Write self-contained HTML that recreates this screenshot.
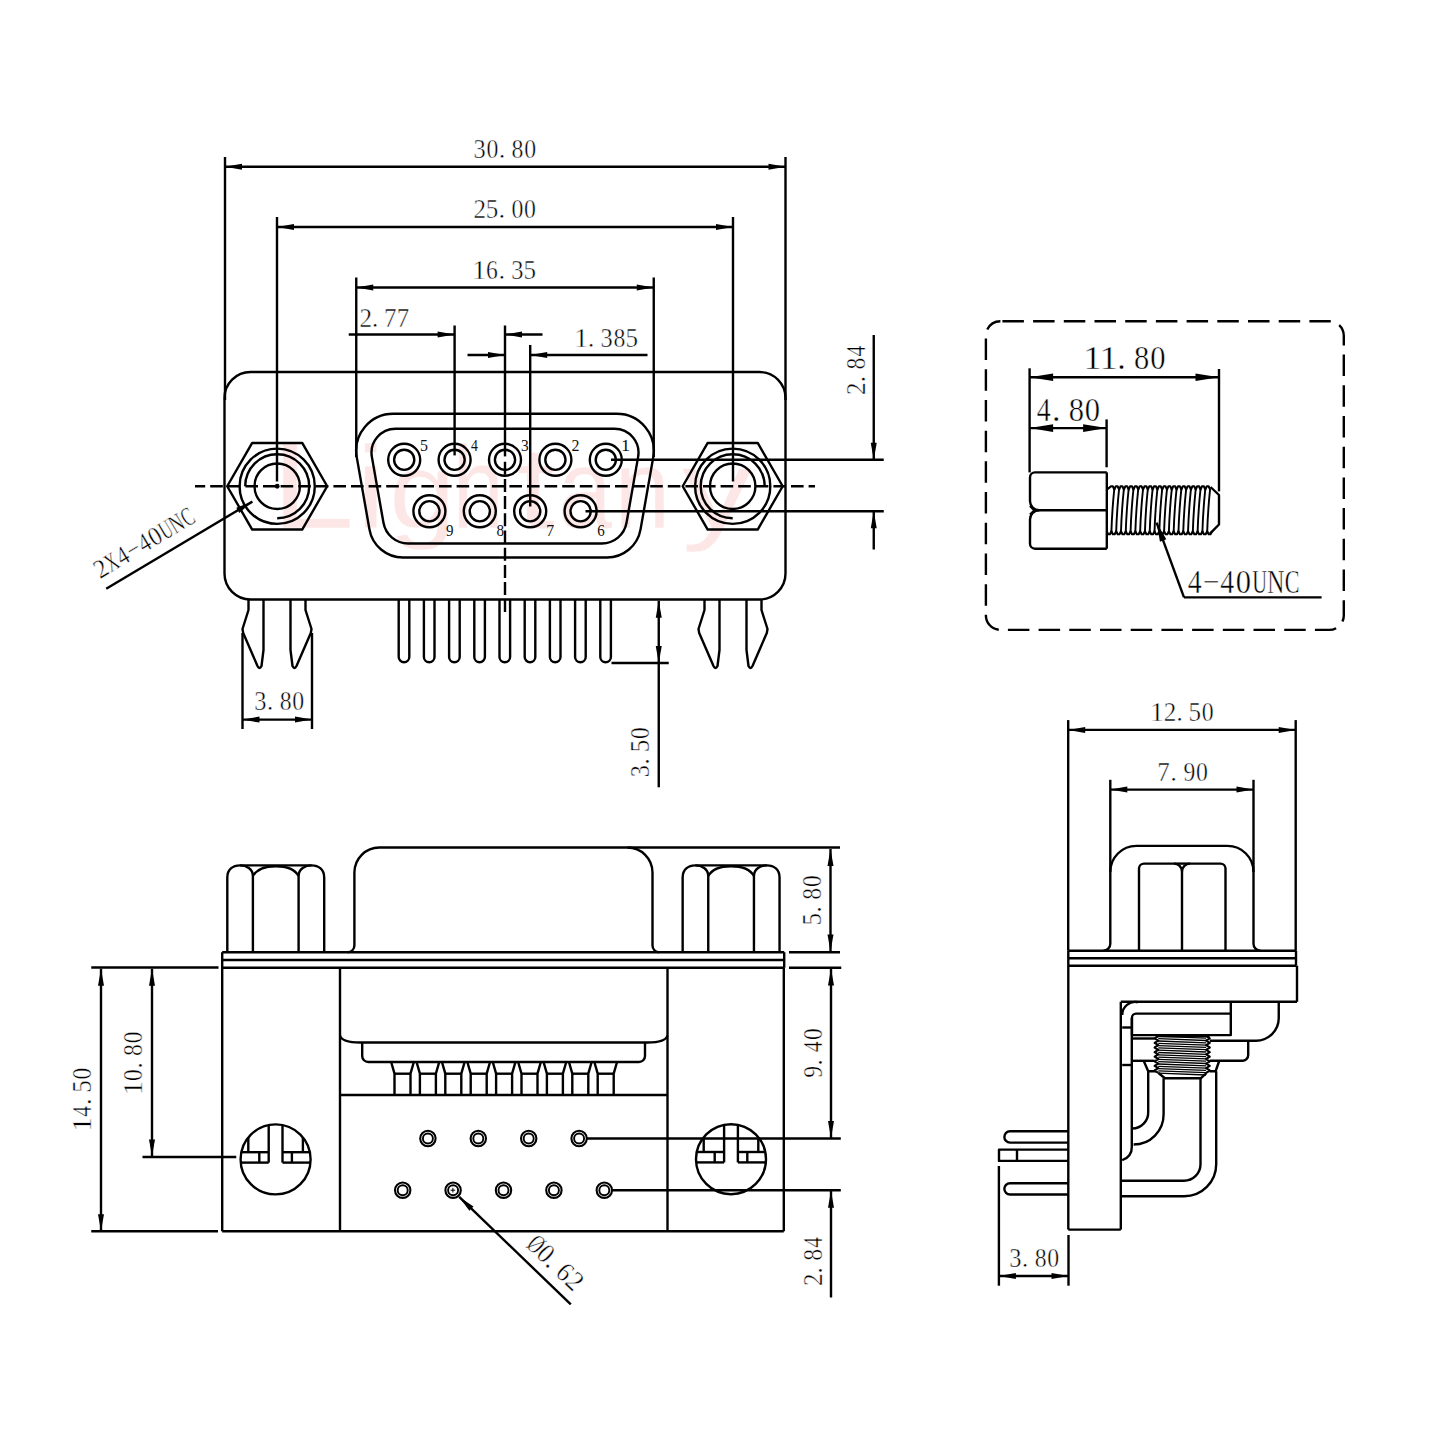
<!DOCTYPE html>
<html><head><meta charset="utf-8"><title>DB9 connector drawing</title><style>
*{margin:0;padding:0}
html,body{width:1440px;height:1440px;background:#fff;overflow:hidden}
svg{display:block}
.g line,.g path,.g circle{fill:none;stroke:#000;stroke-width:2.4;stroke-linecap:butt;stroke-linejoin:round}
.g .a{fill:#000;stroke:none}
.g .th{stroke-width:1.9}
.g .th2{stroke-width:2.1}
.g .hl{stroke-width:1.35}
text{font-family:"Liberation Serif",serif;fill:#000;stroke:#fff;stroke-width:0.45;paint-order:fill}
.s text{stroke:none;fill:#111}
.wm{font-family:"Liberation Sans",sans-serif;fill:#fce6e6}
</style></head>
<body><svg width="1440" height="1440" viewBox="0 0 1440 1440">
<text class="wm" transform="translate(270.54 528) scale(1.245 1.000)" font-size="122">L</text><text class="wm" transform="translate(355.86 528) scale(1.118 0.965)" font-size="122">i</text><text class="wm" transform="translate(388.96 528) scale(0.984 0.880)" font-size="122">g</text><text class="wm" transform="translate(452.62 528) scale(0.758 0.960)" font-size="122">h</text><text class="wm" transform="translate(515.89 528) scale(1.153 0.950)" font-size="122">t</text><text class="wm" transform="translate(557.91 528) scale(0.797 0.930)" font-size="122">a</text><text class="wm" transform="translate(614.32 528) scale(0.829 0.930)" font-size="122">n</text><text class="wm" transform="translate(681.72 528) scale(1.157 0.930)" font-size="122">y</text>
<g class="g">
<path d="M250.5 372 L759.5 372 A26 26 0 0 1 785.5 398 L785.5 573.5 A26 26 0 0 1 759.5 599.5 L250.5 599.5 A26 26 0 0 1 224.5 573.5 L224.5 398 A26 26 0 0 1 250.5 372 Z"/>
<line x1="225" y1="157" x2="225" y2="400"/>
<line x1="785.5" y1="157" x2="785.5" y2="400"/>
<line x1="225" y1="166.75" x2="785.5" y2="166.75"/>
<path class="a" d="M225 166.75 L242 163.75 L242 169.75 Z"/>
<path class="a" d="M785.5 166.75 L768.5 169.75 L768.5 163.75 Z"/>
<g class="t" transform="translate(0 0.5)"><text transform="translate(473.53 157.4) scale(0.920 1)" font-size="26.53">3</text><text transform="translate(486.4 157.4) scale(0.896 1)" font-size="26.53">0</text><text x="498.64" y="157.4" font-size="26.53">.</text><text transform="translate(511.6 157.4) scale(0.896 1)" font-size="26.53">8</text><text transform="translate(524.2 157.4) scale(0.896 1)" font-size="26.53">0</text></g>
<line x1="277" y1="217" x2="277" y2="481.5"/>
<line x1="733" y1="217" x2="733" y2="481.5"/>
<line x1="277" y1="227" x2="733" y2="227"/>
<path class="a" d="M277 227 L294 224 L294 230 Z"/>
<path class="a" d="M733 227 L716 230 L716 224 Z"/>
<g class="t" transform="translate(0 0.5)"><text transform="translate(473.39 217.6) scale(0.948 1)" font-size="26.53">2</text><text transform="translate(485.65 217.6) scale(0.943 1)" font-size="26.53">5</text><text x="498.44" y="217.6" font-size="26.53">.</text><text transform="translate(511.4 217.6) scale(0.896 1)" font-size="26.53">0</text><text transform="translate(524 217.6) scale(0.896 1)" font-size="26.53">0</text></g>
<line x1="356.25" y1="277.5" x2="356.25" y2="457"/>
<line x1="653.75" y1="277.5" x2="653.75" y2="457"/>
<line x1="356.25" y1="287.5" x2="653.75" y2="287.5"/>
<path class="a" d="M356.25 287.5 L373.25 284.5 L373.25 290.5 Z"/>
<path class="a" d="M653.75 287.5 L636.75 290.5 L636.75 284.5 Z"/>
<g class="t" transform="translate(0 0.5)"><text transform="translate(471.98 278.8) scale(1.080 1)" font-size="26.53">1</text><text transform="translate(486.08 278.8) scale(0.890 1)" font-size="26.53">6</text><text x="498.44" y="278.8" font-size="26.53">.</text><text transform="translate(511.13 278.8) scale(0.920 1)" font-size="26.53">3</text><text transform="translate(523.45 278.8) scale(0.943 1)" font-size="26.53">5</text></g>
<line x1="454.6" y1="325.5" x2="454.6" y2="455.4"/>
<line x1="505" y1="325.5" x2="505" y2="456.4"/>
<line x1="348.75" y1="334.5" x2="454.6" y2="334.5"/>
<path class="a" d="M454.6 334.5 L437.6 337.5 L437.6 331.5 Z"/>
<line x1="505" y1="334.5" x2="542.5" y2="334.5"/>
<path class="a" d="M505 334.5 L522 331.5 L522 337.5 Z"/>
<g class="t" transform="translate(0 0.5)"><text transform="translate(359.39 326.3) scale(0.948 1)" font-size="26.53">2</text><text x="371.84" y="326.3" font-size="26.53">.</text><text transform="translate(384.06 326.3) scale(0.938 1)" font-size="26.53">7</text><text transform="translate(396.66 326.3) scale(0.938 1)" font-size="26.53">7</text></g>
<line x1="530.2" y1="345" x2="530.2" y2="506.5"/>
<line x1="467.5" y1="355" x2="505" y2="355"/>
<path class="a" d="M505 355 L488 358 L488 352 Z"/>
<line x1="530.2" y1="355" x2="647.5" y2="355"/>
<path class="a" d="M530.2 355 L547.2 352 L547.2 358 Z"/>
<g class="t" transform="translate(0 0.5)"><text transform="translate(573.98 346.3) scale(1.080 1)" font-size="26.53">1</text><text x="587.84" y="346.3" font-size="26.53">.</text><text transform="translate(600.53 346.3) scale(0.920 1)" font-size="26.53">3</text><text transform="translate(613.4 346.3) scale(0.896 1)" font-size="26.53">8</text><text transform="translate(625.45 346.3) scale(0.943 1)" font-size="26.53">5</text></g>
<path d="M393.18 413.75 L616.82 413.75 A37 37 0 0 1 653.26 457.16 L640.55 529.39 A34 34 0 0 1 607.06 557.5 L402.94 557.5 A34 34 0 0 1 369.45 529.39 L356.74 457.16 A37 37 0 0 1 393.18 413.75 Z"/>
<path d="M395.52 428.75 L614.48 428.75 A24 24 0 0 1 638.12 456.91 L626.52 522.83 A25 25 0 0 1 601.9 543.5 L408.1 543.5 A25 25 0 0 1 383.48 522.83 L371.88 456.91 A24 24 0 0 1 395.52 428.75 Z"/>
<circle cx="404.2" cy="459.8" r="16"/>
<circle cx="404.2" cy="459.8" r="10.1"/>
<circle cx="454.6" cy="459.8" r="16"/>
<circle cx="454.6" cy="459.8" r="10.1"/>
<circle cx="505" cy="459.8" r="16"/>
<circle cx="505" cy="459.8" r="10.1"/>
<circle cx="555.4" cy="459.8" r="16"/>
<circle cx="555.4" cy="459.8" r="10.1"/>
<circle cx="605.8" cy="459.8" r="16"/>
<circle cx="605.8" cy="459.8" r="10.1"/>
<circle cx="429.4" cy="511.25" r="16"/>
<circle cx="429.4" cy="511.25" r="10.1"/>
<circle cx="479.8" cy="511.25" r="16"/>
<circle cx="479.8" cy="511.25" r="10.1"/>
<circle cx="530.2" cy="511.25" r="16"/>
<circle cx="530.2" cy="511.25" r="10.1"/>
<circle cx="580.6" cy="511.25" r="16"/>
<circle cx="580.6" cy="511.25" r="10.1"/>
<g class="s" transform="translate(0 0.5)"><text transform="translate(420.08 450.4) scale(0.943 1)" font-size="16.84">5</text></g>
<g class="s" transform="translate(0 0.5)"><text transform="translate(471.12 450.4) scale(0.819 1)" font-size="16.84">4</text></g>
<g class="s" transform="translate(0 0.5)"><text transform="translate(521.06 450.4) scale(0.920 1)" font-size="16.84">3</text></g>
<g class="s" transform="translate(0 0.5)"><text transform="translate(571.5 450.4) scale(0.948 1)" font-size="16.84">2</text></g>
<g class="s" transform="translate(0 0.5)"><text transform="translate(621 450.4) scale(1.080 1)" font-size="16.84">1</text></g>
<g class="s" transform="translate(0 0.5)"><text transform="translate(446.12 535) scale(0.890 1)" font-size="16.84">9</text></g>
<g class="s" transform="translate(0 0.5)"><text transform="translate(496.43 535) scale(0.896 1)" font-size="16.84">8</text></g>
<g class="s" transform="translate(0 0.5)"><text transform="translate(546.36 535) scale(0.938 1)" font-size="16.84">7</text></g>
<g class="s" transform="translate(0 0.5)"><text transform="translate(597.16 535) scale(0.890 1)" font-size="16.84">6</text></g>
<line x1="195" y1="486.25" x2="815" y2="486.25" stroke-dasharray="12.6 5" stroke-dashoffset="2.4"/>
<line x1="505" y1="461.7" x2="505" y2="612" stroke-dasharray="13 4.2" stroke-dashoffset="0"/>
<line x1="611" y1="459.8" x2="883.75" y2="459.8"/>
<line x1="585.5" y1="511.25" x2="883.75" y2="511.25"/>
<line x1="873.75" y1="335" x2="873.75" y2="459.8"/>
<path class="a" d="M873.75 459.8 L870.75 442.8 L876.75 442.8 Z"/>
<line x1="873.75" y1="511.25" x2="873.75" y2="549.5"/>
<path class="a" d="M873.75 511.25 L876.75 528.25 L870.75 528.25 Z"/>
<g class="t" transform="translate(865 393.8) rotate(-90)"><text transform="translate(-1.11 0) scale(0.948 1)" font-size="26.53">2</text><text x="11.34" y="0" font-size="26.53">.</text><text transform="translate(24.3 0) scale(0.896 1)" font-size="26.53">8</text><text transform="translate(37.37 0) scale(0.819 1)" font-size="26.53">4</text></g>
<path d="M227.2 486.25 L252.2 442.95 L302.2 442.95 L327.2 486.25 L302.2 529.55 L252.2 529.55 Z"/>
<circle cx="277.2" cy="486.25" r="37.6"/>
<circle cx="277.2" cy="486.25" r="22.7"/>
<path d="M245.2 486.25 A32 32 0 1 1 277.2 518.25"/>
<circle cx="277.2" cy="486.25" r="2.4" class="a"/>
<path d="M682.7 486.25 L707.7 442.95 L757.7 442.95 L782.7 486.25 L757.7 529.55 L707.7 529.55 Z"/>
<circle cx="732.7" cy="486.25" r="37.6"/>
<circle cx="732.7" cy="486.25" r="22.7"/>
<path d="M764.7 486.25 A32 32 0 1 0 732.7 518.25"/>
<path d="M248.5 599.5 L248.5 610 L242.5 629 L243.2 633 L257.5 666 Q259.5 670 261.5 666 L263.5 650 L263.5 599.5"/>
<path d="M305.5 599.5 L305.5 610 L311.5 629 L310.8 633 L296.5 666 Q294.5 670 292.5 666 L290.5 650 L290.5 599.5"/>
<path d="M704.5 599.5 L704.5 610 L698.5 629 L699.2 633 L713.5 666 Q715.5 670 717.5 666 L719.5 650 L719.5 599.5"/>
<path d="M761.5 599.5 L761.5 610 L767.5 629 L766.8 633 L752.5 666 Q750.5 670 748.5 666 L746.5 650 L746.5 599.5"/>
<line x1="242.5" y1="633" x2="242.5" y2="729"/>
<line x1="312" y1="633" x2="312" y2="729"/>
<line x1="242.5" y1="719.6" x2="312" y2="719.6"/>
<path class="a" d="M242.5 719.6 L259.5 716.6 L259.5 722.6 Z"/>
<path class="a" d="M312 719.6 L295 722.6 L295 716.6 Z"/>
<g class="t" transform="translate(0 0.5)"><text transform="translate(254.23 709) scale(0.920 1)" font-size="26.53">3</text><text x="266.74" y="709" font-size="26.53">.</text><text transform="translate(279.7 709) scale(0.896 1)" font-size="26.53">8</text><text transform="translate(292.3 709) scale(0.896 1)" font-size="26.53">0</text></g>
<path d="M398.7 599.5 L398.7 656.9 A5.3 5.3 0 0 0 409.3 656.9 L409.3 599.5"/>
<path d="M423.9 599.5 L423.9 656.9 A5.3 5.3 0 0 0 434.5 656.9 L434.5 599.5"/>
<path d="M449.1 599.5 L449.1 656.9 A5.3 5.3 0 0 0 459.7 656.9 L459.7 599.5"/>
<path d="M474.3 599.5 L474.3 656.9 A5.3 5.3 0 0 0 484.9 656.9 L484.9 599.5"/>
<path d="M499.5 599.5 L499.5 656.9 A5.3 5.3 0 0 0 510.1 656.9 L510.1 599.5"/>
<path d="M524.7 599.5 L524.7 656.9 A5.3 5.3 0 0 0 535.3 656.9 L535.3 599.5"/>
<path d="M549.9 599.5 L549.9 656.9 A5.3 5.3 0 0 0 560.5 656.9 L560.5 599.5"/>
<path d="M575.1 599.5 L575.1 656.9 A5.3 5.3 0 0 0 585.7 656.9 L585.7 599.5"/>
<path d="M600.3 599.5 L600.3 656.9 A5.3 5.3 0 0 0 610.9 656.9 L610.9 599.5"/>
<line x1="658.75" y1="600.8" x2="658.75" y2="787.3"/>
<path class="a" d="M658.75 600.8 L661.75 617.8 L655.75 617.8 Z"/>
<path class="a" d="M658.75 663 L655.75 646 L661.75 646 Z"/>
<line x1="611.5" y1="663" x2="668.75" y2="663"/>
<g class="t" transform="translate(649 776) rotate(-90)"><text transform="translate(-1.17 0) scale(0.920 1)" font-size="26.53">3</text><text x="11.34" y="0" font-size="26.53">.</text><text transform="translate(23.75 0) scale(0.943 1)" font-size="26.53">5</text><text transform="translate(36.9 0) scale(0.896 1)" font-size="26.53">0</text></g>
<line x1="106.2" y1="588.8" x2="252.4" y2="501.6"/>
<path class="a" d="M252.4 501.6 L239.34 512.88 L236.26 507.73 Z"/>
<g class="t" transform="translate(101 578.6) rotate(-30.8)"><text transform="translate(-1.11 0) scale(0.948 1)" font-size="26.53">2</text><text transform="translate(11.47 0) scale(0.641 1)" font-size="26.53">X</text><text transform="translate(24.77 0) scale(0.819 1)" font-size="26.53">4</text><text transform="translate(36.41 0) scale(0.858 1)" font-size="26.53">−</text><text transform="translate(49.97 0) scale(0.819 1)" font-size="26.53">4</text><text transform="translate(62.1 0) scale(0.896 1)" font-size="26.53">0</text><text transform="translate(74.89 0) scale(0.601 1)" font-size="26.53">U</text><text transform="translate(86.53 0) scale(0.695 1)" font-size="26.53">N</text><text transform="translate(100.22 0) scale(0.649 1)" font-size="26.53">C</text></g>
<path d="M1000.4 321.25 L1329.3 321.25 A14.5 14.5 0 0 1 1343.8 335.75 L1343.8 615.4 A14.5 14.5 0 0 1 1329.3 629.9 L1000.4 629.9 A14.5 14.5 0 0 1 985.9 615.4 L985.9 335.75 A14.5 14.5 0 0 1 1000.4 321.25 Z" stroke-dasharray="21.5 9.2" stroke-dashoffset="-2"/>
<path d="M1106.8 472.4 L1035 472.4 A5 5 0 0 0 1030 477.4 L1030 501 A9.3 9.3 0 0 0 1039.3 510.3 L1106.8 510.3"/>
<path d="M1106.8 548.7 L1035 548.7 A5 5 0 0 1 1030 543.7 L1030 519.6 A9.3 9.3 0 0 1 1039.3 510.3"/>
<line x1="1106.8" y1="472.4" x2="1106.8" y2="548.7"/>
<path d="M1030 506 L1034.5 510.3 L1030 514.6"/>
<path class="th" d="M1114.3 489 Q1112.1 510 1111.4 531.7"/>
<path class="th" d="M1119.09 489 Q1116.89 510 1116.19 531.7"/>
<path class="th" d="M1123.88 489 Q1121.68 510 1120.98 531.7"/>
<path class="th" d="M1128.67 489 Q1126.47 510 1125.77 531.7"/>
<path class="th" d="M1133.46 489 Q1131.26 510 1130.56 531.7"/>
<path class="th" d="M1138.25 489 Q1136.05 510 1135.35 531.7"/>
<path class="th" d="M1143.04 489 Q1140.84 510 1140.14 531.7"/>
<path class="th" d="M1147.83 489 Q1145.63 510 1144.93 531.7"/>
<path class="th" d="M1152.62 489 Q1150.42 510 1149.72 531.7"/>
<path class="th" d="M1157.41 489 Q1155.21 510 1154.51 531.7"/>
<path class="th" d="M1162.2 489 Q1160 510 1159.3 531.7"/>
<path class="th" d="M1166.99 489 Q1164.79 510 1164.09 531.7"/>
<path class="th" d="M1171.78 489 Q1169.58 510 1168.88 531.7"/>
<path class="th" d="M1176.57 489 Q1174.37 510 1173.67 531.7"/>
<path class="th" d="M1181.36 489 Q1179.16 510 1178.46 531.7"/>
<path class="th" d="M1186.15 489 Q1183.95 510 1183.25 531.7"/>
<path class="th" d="M1190.94 489 Q1188.74 510 1188.04 531.7"/>
<path class="th" d="M1195.73 489 Q1193.53 510 1192.83 531.7"/>
<path class="th" d="M1200.52 489 Q1198.32 510 1197.62 531.7"/>
<path class="th" d="M1205.31 489 Q1203.11 510 1202.41 531.7"/>
<path class="th" d="M1210.1 489 Q1207.9 510 1207.2 531.7"/>
<path d="M1210.5 487 L1219 495 L1219 524.5 L1210 533.6"/>
<path d="M1106.8 489.6 L1111 486.3 L1112.8 486.3 L1114.3 489.6 L1115.79 486.3 L1117.59 486.3 L1119.09 489.6 L1120.58 486.3 L1122.38 486.3 L1123.88 489.6 L1125.37 486.3 L1127.17 486.3 L1128.67 489.6 L1130.16 486.3 L1131.96 486.3 L1133.46 489.6 L1134.95 486.3 L1136.75 486.3 L1138.25 489.6 L1139.74 486.3 L1141.54 486.3 L1143.04 489.6 L1144.53 486.3 L1146.33 486.3 L1147.83 489.6 L1149.32 486.3 L1151.12 486.3 L1152.62 489.6 L1154.11 486.3 L1155.91 486.3 L1157.41 489.6 L1158.9 486.3 L1160.7 486.3 L1162.2 489.6 L1163.69 486.3 L1165.49 486.3 L1166.99 489.6 L1168.48 486.3 L1170.28 486.3 L1171.78 489.6 L1173.27 486.3 L1175.07 486.3 L1176.57 489.6 L1178.06 486.3 L1179.86 486.3 L1181.36 489.6 L1182.85 486.3 L1184.65 486.3 L1186.15 489.6 L1187.64 486.3 L1189.44 486.3 L1190.94 489.6 L1192.43 486.3 L1194.23 486.3 L1195.73 489.6 L1197.22 486.3 L1199.02 486.3 L1200.52 489.6 L1202.01 486.3 L1203.81 486.3 L1205.31 489.6 L1206.8 486.3 L1208.6 486.3 L1210.1 489.6" class="th2"/>
<path d="M1106.8 531.2 L1108.1 534.2 L1109.9 534.2 L1111.4 531.2 L1112.89 534.2 L1114.69 534.2 L1116.19 531.2 L1117.68 534.2 L1119.48 534.2 L1120.98 531.2 L1122.47 534.2 L1124.27 534.2 L1125.77 531.2 L1127.26 534.2 L1129.06 534.2 L1130.56 531.2 L1132.05 534.2 L1133.85 534.2 L1135.35 531.2 L1136.84 534.2 L1138.64 534.2 L1140.14 531.2 L1141.63 534.2 L1143.43 534.2 L1144.93 531.2 L1146.42 534.2 L1148.22 534.2 L1149.72 531.2 L1151.21 534.2 L1153.01 534.2 L1154.51 531.2 L1156 534.2 L1157.8 534.2 L1159.3 531.2 L1160.79 534.2 L1162.59 534.2 L1164.09 531.2 L1165.58 534.2 L1167.38 534.2 L1168.88 531.2 L1170.37 534.2 L1172.17 534.2 L1173.67 531.2 L1175.16 534.2 L1176.96 534.2 L1178.46 531.2 L1179.95 534.2 L1181.75 534.2 L1183.25 531.2 L1184.74 534.2 L1186.54 534.2 L1188.04 531.2 L1189.53 534.2 L1191.33 534.2 L1192.83 531.2 L1194.32 534.2 L1196.12 534.2 L1197.62 531.2 L1199.11 534.2 L1200.91 534.2 L1202.41 531.2 L1203.9 534.2 L1205.7 534.2 L1207.2 531.2 L1208.69 534.2 L1210.49 534.2 L1211.99 531.2" class="th2"/>
<line x1="1029.6" y1="368.3" x2="1029.6" y2="472.4"/>
<line x1="1219" y1="369" x2="1219" y2="491.4"/>
<line x1="1029.6" y1="377.2" x2="1219" y2="377.2"/>
<path class="a" d="M1029.6 377.2 L1053.1 373.4 L1053.1 381 Z"/>
<path class="a" d="M1219 377.2 L1195.5 381 L1195.5 373.4 Z"/>
<g class="t" transform="translate(0 0.5)"><text transform="translate(1083.26 368.3) scale(1.080 1)" font-size="34.11">1</text><text transform="translate(1099.46 368.3) scale(1.080 1)" font-size="34.11">1</text><text x="1117.28" y="368.3" font-size="34.11">.</text><text transform="translate(1133.94 368.3) scale(0.896 1)" font-size="34.11">8</text><text transform="translate(1150.14 368.3) scale(0.896 1)" font-size="34.11">0</text></g>
<line x1="1106.6" y1="419.4" x2="1106.6" y2="467.3"/>
<line x1="1029.6" y1="428.1" x2="1106.6" y2="428.1"/>
<path class="a" d="M1029.6 428.1 L1053.1 424.3 L1053.1 431.9 Z"/>
<path class="a" d="M1106.6 428.1 L1083.1 431.9 L1083.1 424.3 Z"/>
<g class="t" transform="translate(0 0.5)"><text transform="translate(1036.84 420) scale(0.819 1)" font-size="34.11">4</text><text x="1051.98" y="420" font-size="34.11">.</text><text transform="translate(1068.64 420) scale(0.896 1)" font-size="34.11">8</text><text transform="translate(1084.84 420) scale(0.896 1)" font-size="34.11">0</text></g>
<line x1="1156.6" y1="522.7" x2="1184" y2="597.4"/>
<line x1="1184" y1="597.4" x2="1321.6" y2="597.4"/>
<path class="a" d="M1156.6 522.7 L1166.33 539.37 L1159.95 541.71 Z"/>
<g class="t" transform="translate(0 0.5)"><text transform="translate(1187.74 592.8) scale(0.819 1)" font-size="34.11">4</text><text transform="translate(1202.71 592.8) scale(0.858 1)" font-size="34.11">−</text><text transform="translate(1220.14 592.8) scale(0.819 1)" font-size="34.11">4</text><text transform="translate(1235.74 592.8) scale(0.896 1)" font-size="34.11">0</text><text transform="translate(1252.18 592.8) scale(0.601 1)" font-size="34.11">U</text><text transform="translate(1267.15 592.8) scale(0.695 1)" font-size="34.11">N</text><text transform="translate(1284.75 592.8) scale(0.649 1)" font-size="34.11">C</text></g>
<path d="M347.8 952.2 A6.6 6.6 0 0 0 354.4 945.6 L354.4 872.5 A25 25 0 0 1 379.4 847.5 L627.5 847.5 A25 25 0 0 1 652.5 872.5 L652.5 945.6 A6.6 6.6 0 0 0 659.1 952.2"/>
<line x1="627.5" y1="847.5" x2="840" y2="847.5"/>
<path d="M227.3 952.2 L227.3 877.5 C227.3 869.5 232.8 865.4 240 865.4 C246.3 865.4 252.9 869 252.9 876 L252.9 952.2"/>
<path d="M324.2 952.2 L324.2 877.5 C324.2 869.5 318.7 865.4 311.5 865.4 C305.2 865.4 298.6 869 298.6 876 L298.6 952.2"/>
<path d="M252.9 876 C256.9 869 263.75 866.2 275.75 866.2 C287.75 866.2 294.6 869 298.6 876"/>
<line x1="240" y1="865.4" x2="311.5" y2="865.4"/>
<path d="M682.65 952.2 L682.65 877.5 C682.65 869.5 688.15 865.4 695.35 865.4 C701.65 865.4 708.25 869 708.25 876 L708.25 952.2"/>
<path d="M779.55 952.2 L779.55 877.5 C779.55 869.5 774.05 865.4 766.85 865.4 C760.55 865.4 753.95 869 753.95 876 L753.95 952.2"/>
<path d="M708.25 876 C712.25 869 719.1 866.2 731.1 866.2 C743.1 866.2 749.95 869 753.95 876"/>
<line x1="695.35" y1="865.4" x2="766.85" y2="865.4"/>
<line x1="222.2" y1="952.2" x2="784.2" y2="952.2"/>
<line x1="222.2" y1="960" x2="784.2" y2="960"/>
<line x1="222.2" y1="967.8" x2="784.2" y2="967.8"/>
<line x1="222.2" y1="952.2" x2="222.2" y2="1231.3"/>
<line x1="784.2" y1="952.2" x2="784.2" y2="967.8"/>
<line x1="783.8" y1="967.8" x2="783.8" y2="1231.3"/>
<line x1="222.2" y1="1231.3" x2="783.8" y2="1231.3"/>
<line x1="340" y1="967.8" x2="340" y2="1231.3"/>
<line x1="667.5" y1="967.8" x2="667.5" y2="1231.3"/>
<line x1="340" y1="1095" x2="667.5" y2="1095"/>
<path d="M340 1035.5 Q342 1042.5 360 1042.5 L647.5 1042.5 Q665.5 1042.5 667.5 1035.5"/>
<path d="M362.2 1042.5 L362.2 1056 A6 6 0 0 0 368.2 1062 L639 1062 A6 6 0 0 0 645 1056 L645 1042.5"/>
<path d="M391.3 1062.5 L394.5 1073.7 L394.5 1095"/>
<path d="M413.7 1062.5 L410.5 1073.7 L410.5 1095"/>
<line x1="394.5" y1="1073.7" x2="410.5" y2="1073.7"/>
<path d="M416.7 1062.5 L419.9 1073.7 L419.9 1095"/>
<path d="M439.1 1062.5 L435.9 1073.7 L435.9 1095"/>
<line x1="419.9" y1="1073.7" x2="435.9" y2="1073.7"/>
<path d="M442.1 1062.5 L445.3 1073.7 L445.3 1095"/>
<path d="M464.5 1062.5 L461.3 1073.7 L461.3 1095"/>
<line x1="445.3" y1="1073.7" x2="461.3" y2="1073.7"/>
<path d="M467.5 1062.5 L470.7 1073.7 L470.7 1095"/>
<path d="M489.9 1062.5 L486.7 1073.7 L486.7 1095"/>
<line x1="470.7" y1="1073.7" x2="486.7" y2="1073.7"/>
<path d="M492.9 1062.5 L496.1 1073.7 L496.1 1095"/>
<path d="M515.3 1062.5 L512.1 1073.7 L512.1 1095"/>
<line x1="496.1" y1="1073.7" x2="512.1" y2="1073.7"/>
<path d="M518.3 1062.5 L521.5 1073.7 L521.5 1095"/>
<path d="M540.7 1062.5 L537.5 1073.7 L537.5 1095"/>
<line x1="521.5" y1="1073.7" x2="537.5" y2="1073.7"/>
<path d="M543.7 1062.5 L546.9 1073.7 L546.9 1095"/>
<path d="M566.1 1062.5 L562.9 1073.7 L562.9 1095"/>
<line x1="546.9" y1="1073.7" x2="562.9" y2="1073.7"/>
<path d="M569.1 1062.5 L572.3 1073.7 L572.3 1095"/>
<path d="M591.5 1062.5 L588.3 1073.7 L588.3 1095"/>
<line x1="572.3" y1="1073.7" x2="588.3" y2="1073.7"/>
<path d="M594.5 1062.5 L597.7 1073.7 L597.7 1095"/>
<path d="M616.9 1062.5 L613.7 1073.7 L613.7 1095"/>
<line x1="597.7" y1="1073.7" x2="613.7" y2="1073.7"/>
<circle cx="275.6" cy="1159.4" r="35"/>
<line x1="268.7" y1="1125.09" x2="268.7" y2="1162.6"/>
<line x1="268.7" y1="1162.6" x2="240.75" y2="1162.6"/>
<line x1="268.7" y1="1152.2" x2="241.35" y2="1152.2"/>
<line x1="259.3" y1="1152.2" x2="259.3" y2="1162.6"/>
<line x1="248.3" y1="1137.5" x2="248.3" y2="1152.2"/>
<line x1="282.5" y1="1125.09" x2="282.5" y2="1162.6"/>
<line x1="282.5" y1="1162.6" x2="310.45" y2="1162.6"/>
<line x1="282.5" y1="1152.2" x2="309.85" y2="1152.2"/>
<line x1="291.9" y1="1152.2" x2="291.9" y2="1162.6"/>
<line x1="302.9" y1="1137.5" x2="302.9" y2="1152.2"/>
<circle cx="731" cy="1159.2" r="35"/>
<line x1="724.1" y1="1124.89" x2="724.1" y2="1162.4"/>
<line x1="724.1" y1="1162.4" x2="696.15" y2="1162.4"/>
<line x1="724.1" y1="1152" x2="696.75" y2="1152"/>
<line x1="714.7" y1="1152" x2="714.7" y2="1162.4"/>
<line x1="703.7" y1="1137.3" x2="703.7" y2="1152"/>
<line x1="737.9" y1="1124.89" x2="737.9" y2="1162.4"/>
<line x1="737.9" y1="1162.4" x2="765.85" y2="1162.4"/>
<line x1="737.9" y1="1152" x2="765.25" y2="1152"/>
<line x1="747.3" y1="1152" x2="747.3" y2="1162.4"/>
<line x1="758.3" y1="1137.3" x2="758.3" y2="1152"/>
<circle cx="427.9" cy="1138.5" r="7.7" style="stroke-width:2.1"/>
<circle cx="427.9" cy="1138.5" r="5" style="stroke-width:1.9"/>
<circle cx="478.3" cy="1138.5" r="7.7" style="stroke-width:2.1"/>
<circle cx="478.3" cy="1138.5" r="5" style="stroke-width:1.9"/>
<circle cx="528.7" cy="1138.5" r="7.7" style="stroke-width:2.1"/>
<circle cx="528.7" cy="1138.5" r="5" style="stroke-width:1.9"/>
<circle cx="579.1" cy="1138.5" r="7.7" style="stroke-width:2.1"/>
<circle cx="579.1" cy="1138.5" r="5" style="stroke-width:1.9"/>
<circle cx="402.7" cy="1190.2" r="7.7" style="stroke-width:2.1"/>
<circle cx="402.7" cy="1190.2" r="5" style="stroke-width:1.9"/>
<circle cx="453.1" cy="1190.2" r="7.7" style="stroke-width:2.1"/>
<circle cx="453.1" cy="1190.2" r="5" style="stroke-width:1.9"/>
<circle cx="503.5" cy="1190.2" r="7.7" style="stroke-width:2.1"/>
<circle cx="503.5" cy="1190.2" r="5" style="stroke-width:1.9"/>
<circle cx="553.9" cy="1190.2" r="7.7" style="stroke-width:2.1"/>
<circle cx="553.9" cy="1190.2" r="5" style="stroke-width:1.9"/>
<circle cx="604.3" cy="1190.2" r="7.7" style="stroke-width:2.1"/>
<circle cx="604.3" cy="1190.2" r="5" style="stroke-width:1.9"/>
<line x1="450.6" y1="1190.2" x2="455.2" y2="1190.2" style="stroke-width:1"/>
<line x1="452.9" y1="1187.9" x2="452.9" y2="1192.5" style="stroke-width:1"/>
<line x1="586.5" y1="1138.5" x2="840.8" y2="1138.5"/>
<line x1="611.7" y1="1190.2" x2="840.8" y2="1190.2"/>
<line x1="659.1" y1="952.4" x2="659.1" y2="952.4"/>
<line x1="789" y1="952.3" x2="840" y2="952.3"/>
<line x1="789" y1="967.75" x2="841.25" y2="967.75"/>
<line x1="830.5" y1="849" x2="830.5" y2="951.7"/>
<path class="a" d="M830.5 849 L833.5 866 L827.5 866 Z"/>
<path class="a" d="M830.5 951.6 L827.5 934.6 L833.5 934.6 Z"/>
<g class="t" transform="translate(820.8 924) rotate(-90)"><text transform="translate(-1.45 0) scale(0.943 1)" font-size="26.53">5</text><text x="11.34" y="0" font-size="26.53">.</text><text transform="translate(24.3 0) scale(0.896 1)" font-size="26.53">8</text><text transform="translate(36.9 0) scale(0.896 1)" font-size="26.53">0</text></g>
<line x1="831" y1="968.5" x2="831" y2="1138"/>
<path class="a" d="M831 968.5 L834 985.5 L828 985.5 Z"/>
<path class="a" d="M831 1138 L828 1121 L834 1121 Z"/>
<g class="t" transform="translate(821.9 1077) rotate(-90)"><text transform="translate(-0.76 0) scale(0.890 1)" font-size="26.53">9</text><text x="11.34" y="0" font-size="26.53">.</text><text transform="translate(24.77 0) scale(0.819 1)" font-size="26.53">4</text><text transform="translate(36.9 0) scale(0.896 1)" font-size="26.53">0</text></g>
<line x1="831" y1="1190.8" x2="831" y2="1297.5"/>
<path class="a" d="M831 1190.8 L834 1207.8 L828 1207.8 Z"/>
<g class="t" transform="translate(821.7 1285) rotate(-90)"><text transform="translate(-1.11 0) scale(0.948 1)" font-size="26.53">2</text><text x="11.34" y="0" font-size="26.53">.</text><text transform="translate(24.3 0) scale(0.896 1)" font-size="26.53">8</text><text transform="translate(37.37 0) scale(0.819 1)" font-size="26.53">4</text></g>
<line x1="91.25" y1="967.5" x2="218.5" y2="967.5"/>
<line x1="91.25" y1="1231.25" x2="218" y2="1231.25"/>
<line x1="101" y1="968.75" x2="101" y2="1231.25"/>
<path class="a" d="M101 968.75 L104 985.75 L98 985.75 Z"/>
<path class="a" d="M101 1231.25 L98 1214.25 L104 1214.25 Z"/>
<g class="t" transform="translate(91.25 1129) rotate(-90)"><text transform="translate(-2.52 0) scale(1.080 1)" font-size="26.53">1</text><text transform="translate(12.17 0) scale(0.819 1)" font-size="26.53">4</text><text x="23.94" y="0" font-size="26.53">.</text><text transform="translate(36.35 0) scale(0.943 1)" font-size="26.53">5</text><text transform="translate(49.5 0) scale(0.896 1)" font-size="26.53">0</text></g>
<line x1="152" y1="968.75" x2="152" y2="1156.5"/>
<path class="a" d="M152 968.75 L155 985.75 L149 985.75 Z"/>
<path class="a" d="M152 1156.5 L149 1139.5 L155 1139.5 Z"/>
<line x1="142.5" y1="1157" x2="236.25" y2="1157"/>
<g class="t" transform="translate(142.3 1092.8) rotate(-90)"><text transform="translate(-2.52 0) scale(1.080 1)" font-size="26.53">1</text><text transform="translate(11.7 0) scale(0.896 1)" font-size="26.53">0</text><text x="23.94" y="0" font-size="26.53">.</text><text transform="translate(36.9 0) scale(0.896 1)" font-size="26.53">8</text><text transform="translate(49.5 0) scale(0.896 1)" font-size="26.53">0</text></g>
<line x1="459.2" y1="1196.9" x2="570.8" y2="1304.4"/>
<path class="a" d="M459.2 1196.9 L473.52 1206.53 L469.36 1210.85 Z"/>
<g class="t" transform="translate(526.2 1247.2) rotate(44)"><text transform="translate(-1.28 0) scale(0.653 1)" font-size="28">Ø</text><text transform="translate(12.35 0) scale(0.896 1)" font-size="28">0</text><text x="25.27" y="0" font-size="28">.</text><text transform="translate(38.83 0) scale(0.890 1)" font-size="28">6</text><text transform="translate(52.03 0) scale(0.948 1)" font-size="28">2</text></g>
<line x1="1068.2" y1="720.1" x2="1068.2" y2="950.7"/>
<line x1="1295.7" y1="720.1" x2="1295.7" y2="950.7"/>
<line x1="1068.2" y1="729.9" x2="1295.7" y2="729.9"/>
<path class="a" d="M1068.2 729.9 L1085.2 726.9 L1085.2 732.9 Z"/>
<path class="a" d="M1295.7 729.9 L1278.7 732.9 L1278.7 726.9 Z"/>
<g class="t" transform="translate(0 0.5)"><text transform="translate(1149.68 720.5) scale(1.080 1)" font-size="26.53">1</text><text transform="translate(1163.69 720.5) scale(0.948 1)" font-size="26.53">2</text><text x="1176.14" y="720.5" font-size="26.53">.</text><text transform="translate(1188.55 720.5) scale(0.943 1)" font-size="26.53">5</text><text transform="translate(1201.7 720.5) scale(0.896 1)" font-size="26.53">0</text></g>
<line x1="1110.3" y1="779.8" x2="1110.3" y2="872"/>
<line x1="1253.5" y1="779.8" x2="1253.5" y2="872"/>
<line x1="1110.3" y1="789.6" x2="1253.5" y2="789.6"/>
<path class="a" d="M1110.3 789.6 L1127.3 786.6 L1127.3 792.6 Z"/>
<path class="a" d="M1253.5 789.6 L1236.5 792.6 L1236.5 786.6 Z"/>
<g class="t" transform="translate(0 0.5)"><text transform="translate(1157.36 780.4) scale(0.938 1)" font-size="26.53">7</text><text x="1170.34" y="780.4" font-size="26.53">.</text><text transform="translate(1183.44 780.4) scale(0.890 1)" font-size="26.53">9</text><text transform="translate(1195.9 780.4) scale(0.896 1)" font-size="26.53">0</text></g>
<path d="M1103.4 950.7 A7 7 0 0 0 1110.3 943.7 L1110.3 871.9 A26 26 0 0 1 1136.3 845.9 L1227.5 845.9 A26 26 0 0 1 1253.5 871.9 L1253.5 943.7 A7 7 0 0 0 1260.4 950.7"/>
<path d="M1139 950.7 L1139 868.6 A5 5 0 0 1 1144 863.6 L1174 863.6 A8 8 0 0 1 1182 871.6 L1182 950.7"/>
<path d="M1225.5 950.7 L1225.5 868.6 A5 5 0 0 0 1220.5 863.6 L1190 863.6 A8 8 0 0 0 1182 871.6"/>
<line x1="1174" y1="863.6" x2="1190" y2="863.6"/>
<line x1="1068.3" y1="950.7" x2="1296" y2="950.7"/>
<line x1="1068.3" y1="958.2" x2="1296" y2="958.2"/>
<line x1="1068.3" y1="965.7" x2="1296" y2="965.7"/>
<line x1="1296" y1="950.7" x2="1296" y2="965.7"/>
<line x1="1297" y1="965.7" x2="1297" y2="1001.8"/>
<line x1="1120.8" y1="1001.8" x2="1297" y2="1001.8"/>
<line x1="1068.3" y1="950.7" x2="1068.3" y2="1229.6"/>
<line x1="1120.8" y1="1001.8" x2="1120.8" y2="1229.6"/>
<line x1="1068.3" y1="1229.6" x2="1120.8" y2="1229.6"/>
<path d="M1068.3 1131.3 L1010 1131.3 A5.65 5.65 0 0 0 1010 1142.6 L1068.3 1142.6"/>
<path d="M1068.3 1183.2 L1010 1183.2 A5.65 5.65 0 0 0 1010 1194.5 L1068.3 1194.5"/>
<path d="M1068.3 1149.6 L999 1149.6 L999 1160.9 L1068.3 1160.9"/>
<line x1="1017" y1="1149.6" x2="1017" y2="1160.9"/>
<line x1="998.9" y1="1166" x2="998.9" y2="1285.7"/>
<line x1="1068.5" y1="1235" x2="1068.5" y2="1285.7"/>
<line x1="998.9" y1="1276" x2="1068.5" y2="1276"/>
<path class="a" d="M998.9 1276 L1015.9 1273 L1015.9 1279 Z"/>
<path class="a" d="M1068.5 1276 L1051.5 1279 L1051.5 1273 Z"/>
<g class="t" transform="translate(0 0.5)"><text transform="translate(1009.23 1266.2) scale(0.920 1)" font-size="26.53">3</text><text x="1021.74" y="1266.2" font-size="26.53">.</text><text transform="translate(1034.7 1266.2) scale(0.896 1)" font-size="26.53">8</text><text transform="translate(1047.3 1266.2) scale(0.896 1)" font-size="26.53">0</text></g>
<path d="M1122.2 1015 A13 13 0 0 1 1137.8 1002.2"/>
<path d="M1131.8 1018 L1131.8 1147 A13 13 0 0 1 1122.2 1160.2"/>
<path d="M1132 1035.1 L1132 1017.6 A4 4 0 0 1 1136 1013.6 L1230.8 1013.6 L1230.8 1035.1 Z"/>
<line x1="1230.8" y1="1002" x2="1230.8" y2="1013.6"/>
<line x1="1122.2" y1="1027.5" x2="1131.8" y2="1027.5"/>
<line x1="1122.2" y1="1065" x2="1131.8" y2="1065"/>
<path d="M1278.75 1002.2 L1278.75 1018 A22.7 22.7 0 0 1 1256 1040.7 L1209.8 1040.7"/>
<path d="M1248.2 1041.5 L1248.2 1055 A5.8 5.8 0 0 1 1242.4 1060.8 L1210 1060.8"/>
<line x1="1133" y1="1060.8" x2="1154.6" y2="1060.8"/>
<line x1="1133" y1="1038.5" x2="1154.6" y2="1038.5"/>
<line class="hl" x1="1158.3" y1="1036.4" x2="1206.1" y2="1038.2"/>
<line class="hl" x1="1158.3" y1="1038.7" x2="1206.1" y2="1040.5"/>
<line class="hl" x1="1158.3" y1="1041" x2="1206.1" y2="1042.8"/>
<line class="hl" x1="1158.3" y1="1043.3" x2="1206.1" y2="1045.1"/>
<line class="hl" x1="1158.3" y1="1045.6" x2="1206.1" y2="1047.4"/>
<line class="hl" x1="1158.3" y1="1047.9" x2="1206.1" y2="1049.7"/>
<line class="hl" x1="1158.3" y1="1050.2" x2="1206.1" y2="1052"/>
<line class="hl" x1="1158.3" y1="1052.5" x2="1206.1" y2="1054.3"/>
<line class="hl" x1="1158.3" y1="1054.8" x2="1206.1" y2="1056.6"/>
<line class="hl" x1="1158.3" y1="1057.1" x2="1206.1" y2="1058.9"/>
<line class="hl" x1="1158.3" y1="1059.4" x2="1206.1" y2="1061.2"/>
<line class="hl" x1="1158.3" y1="1061.7" x2="1206.1" y2="1063.5"/>
<line class="hl" x1="1158.3" y1="1064" x2="1206.1" y2="1065.8"/>
<line class="hl" x1="1158.3" y1="1066.3" x2="1206.1" y2="1068.1"/>
<line class="hl" x1="1158.3" y1="1068.6" x2="1206.1" y2="1070.4"/>
<line class="hl" x1="1158.3" y1="1070.9" x2="1206.1" y2="1072.7"/>
<line class="hl" x1="1158.3" y1="1073.2" x2="1206.1" y2="1075"/>
<path d="M1158.3 1036 L1154.6 1038.3 L1158.3 1040.6 L1154.6 1042.9 L1158.3 1045.2 L1154.6 1047.5 L1158.3 1049.8 L1154.6 1052.1 L1158.3 1054.4 L1154.6 1056.7 L1158.3 1059 L1154.6 1061.3 L1158.3 1063.6 L1154.6 1065.9 L1158.3 1068.2 L1154.6 1070.5 L1158.3 1072.8" class="th2"/>
<path d="M1206.1 1036 L1209.8 1038.3 L1206.1 1040.6 L1209.8 1042.9 L1206.1 1045.2 L1209.8 1047.5 L1206.1 1049.8 L1209.8 1052.1 L1206.1 1054.4 L1209.8 1056.7 L1206.1 1059 L1209.8 1061.3 L1206.1 1063.6 L1209.8 1065.9 L1206.1 1068.2 L1209.8 1070.5 L1206.1 1072.8" class="th2"/>
<line x1="1156" y1="1036" x2="1209.5" y2="1036"/>
<path d="M1144 1061.5 L1148.2 1071.25 L1156 1071.25"/>
<path d="M1219 1061.5 L1215.6 1071.25 L1209.5 1071.25"/>
<path d="M1158.5 1073 L1164.9 1078.2 L1201 1078.2 L1206.5 1073"/>
<path d="M1148.2 1071.25 L1148.2 1112 A16 16 0 0 1 1132.2 1128.5"/>
<path d="M1163.6 1078.2 L1163.6 1114 A30 30 0 0 1 1133.6 1144.5"/>
<path d="M1200.5 1078.2 L1200.5 1164.2 A16.5 16.5 0 0 1 1184 1180.7 L1121 1180.7"/>
<path d="M1216.2 1071.25 L1216.2 1164.2 A32 32 0 0 1 1184.2 1196.2 L1121 1196.2"/>
</g></svg></body></html>
